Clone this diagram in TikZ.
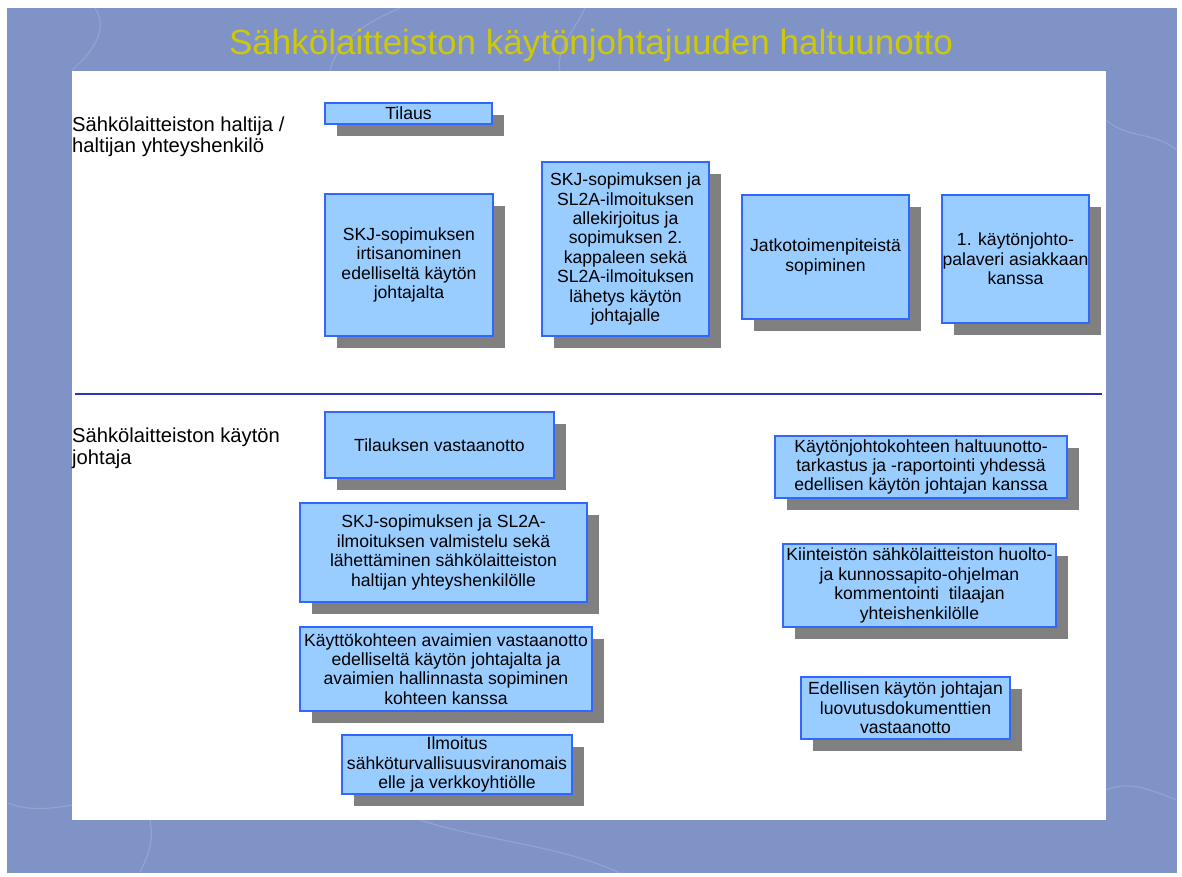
\documentclass[tikz,border=0pt]{standalone}
\usepackage{fontspec}
\setmainfont{Liberation Sans}
\usetikzlibrary{shadows}

\definecolor{tausta}{RGB}{128,147,198}
\definecolor{suonivari}{RGB}{170,186,225}
\definecolor{otsikkovari}{RGB}{206,200,10}
\definecolor{laatikkovari}{RGB}{153,204,255}
\definecolor{reunavari}{RGB}{51,102,255}
\definecolor{varjovari}{RGB}{128,128,128}
\definecolor{viivavari}{RGB}{50,50,185}

\tikzset{
  tehtava/.style={draw=reunavari, line width=1.1pt, fill=laatikkovari,
    inner sep=0pt, align=center, font=\fontsize{17.6}{19.4}\selectfont,
    drop shadow={shadow xshift=12pt, shadow yshift=-12pt,
      fill=varjovari, opacity=1}},
  rooli/.style={anchor=base west, align=left, inner sep=0pt,
    font=\fontsize{20.2}{21.8}\selectfont},
  suoni/.style={draw=suonivari, line width=1.1pt, opacity=0.45, line cap=round}
}

\begin{document}
\begin{tikzpicture}[x=1pt,y=-1pt]
    \useasboundingbox (0,0) rectangle (1182,877);
    % tausta ja paneeli
    \fill[tausta] (7,8) rectangle (1177,873);
    \draw[suoni] (95,8) .. controls (110,30) and (90,55) .. (72,70);
    \draw[suoni] (330,71) .. controls (335,45) and (360,25) .. (400,8);
    \draw[suoni] (560,71) .. controls (555,50) and (575,30) .. (585,8);
    \draw[suoni] (8,803) .. controls (30,812) and (55,808) .. (72,805);
    \draw[suoni] (150,820) .. controls (155,845) and (145,860) .. (140,873);
    \draw[suoni] (420,820) .. controls (480,840) and (560,845) .. (620,873);
    \draw[suoni] (1106,790) .. controls (1130,780) and (1150,790) .. (1177,800);
    \draw[suoni] (1106,120) .. controls (1130,140) and (1150,130) .. (1177,150);
    \fill[white] (72,71) rectangle (1106,820);

    \node[font=\fontsize{35}{40}\selectfont, text=otsikkovari, anchor=base]
        (otsikko) at (591,55) {Sähkölaitteiston käytönjohtajuuden haltuunotto};

    % roolit (ankkuri viimeisen rivin perusviivalla)
    \node[rooli] (haltija) at (72,153) {Sähkölaitteiston haltija /\\haltijan yhteyshenkilö};
    \node[rooli] (johtaja) at (72,464) {Sähkölaitteiston käytön\\johtaja};
    \coordinate (raja1) at (75,394);
    \coordinate (raja2) at (1102,394);
    \draw[viivavari, line width=2.6pt] (raja1) -- (raja2);

    % haltijan tehtavat
    \node[tehtava, minimum width=167pt, minimum height=21pt] (tilaus) at (408.5,113.5) {Tilaus};
    \node[tehtava, minimum width=168pt, minimum height=142pt] (irtisanominen) at (409,265)
        {SKJ-sopimuksen\\irtisanominen\\edelliseltä käytön\\johtajalta};
    \node[tehtava, minimum width=167pt, minimum height=174pt] (allekirjoitus) at (625.5,249)
        {SKJ-sopimuksen ja\\SL2A-ilmoituksen\\allekirjoitus ja\\sopimuksen 2.\\kappaleen sekä\\SL2A-ilmoituksen\\lähetys käytön\\johtajalle};
    \node[tehtava, minimum width=167pt, minimum height=124pt] (jatko) at (825.5,257)
        {Jatkotoimenpiteistä\\sopiminen};
    \node[tehtava, minimum width=147pt, minimum height=128pt] (palaveri) at (1015.5,259)
        {1. käytönjohto-\\palaveri asiakkaan\\kanssa};

    % kaytön johtajan tehtavat
    \node[tehtava, minimum width=229pt, minimum height=66pt] (vastaanotto) at (439.5,445)
        {Tilauksen vastaanotto};
    \node[tehtava, minimum width=287pt, minimum height=99pt] (valmistelu) at (443.5,552.5)
        {SKJ-sopimuksen ja SL2A-\\ilmoituksen valmistelu sekä\\lähettäminen sähkölaitteiston\\haltijan yhteyshenkilölle};
    \node[tehtava, minimum width=292pt, minimum height=84pt] (avaimet) at (446,669)
        {Käyttökohteen avaimien vastaanotto\\edelliseltä käytön johtajalta ja\\avaimien hallinnasta sopiminen\\kohteen kanssa};
    \node[tehtava, minimum width=230pt, minimum height=59pt] (ilmoitus) at (457,764.5)
        {Ilmoitus\\sähköturvallisuusviranomais\\elle ja verkkoyhtiölle};
    \node[tehtava, minimum width=292pt, minimum height=62pt] (tarkastus) at (921,467)
        {Käytönjohtokohteen haltuunotto-\\tarkastus ja -raportointi yhdessä\\edellisen käytön johtajan kanssa};
    \node[tehtava, minimum width=273pt, minimum height=83pt] (ohjelma) at (919.5,585.5)
        {Kiinteistön sähkölaitteiston huolto-\\ja kunnossapito-ohjelman\\kommentointi\ \ tilaajan\\yhteishenkilölle};
    \node[tehtava, minimum width=209pt, minimum height=62pt] (luovutus) at (905.5,708)
        {Edellisen käytön johtajan\\luovutusdokumenttien\\vastaanotto};
\end{tikzpicture}
\end{document}
